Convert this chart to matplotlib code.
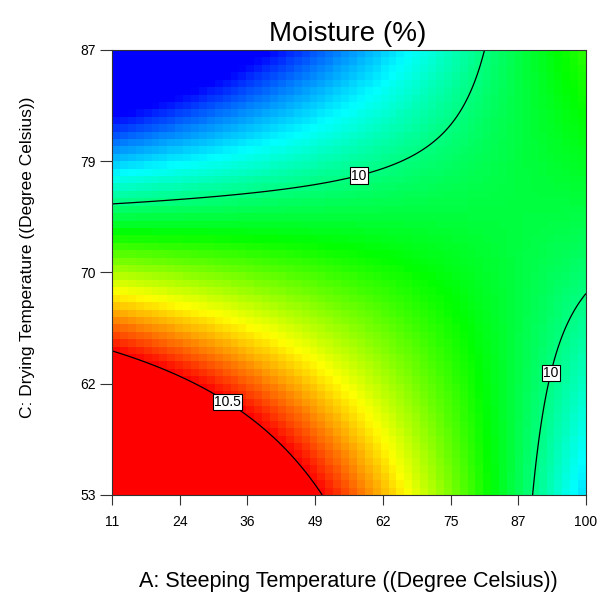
import numpy as np
import matplotlib
matplotlib.use("Agg")
import matplotlib.pyplot as plt
from matplotlib.colors import LinearSegmentedColormap

# Response-surface model for Moisture (%) in coded units
# terms: intercept, A, C, AC, A^2, C^2   (coefficients)
terms = ["1", "A", "C", "AC", "A2", "C2"]
coefs = [10.1345, -0.1109, -0.3124, 0.4451, -0.0110, -0.0096]

a_range = [11.0, 100.0]   # A: Steeping Temperature
c_range = [53.0, 87.0]    # C: Drying Temperature
contour_levels = [10.0, 10.5]
contour_label_text = ["10", "10.5"]
label_spots = [(57.2, 77.7), (92.7, 62.4), (33.0, 60.3)]
x_tick_labels = ["11", "24", "36", "49", "62", "75", "87", "100"]
y_tick_labels = ["53", "62", "70", "79", "87"]
color_low, color_high = 9.7, 10.5


def model(A, C):
    xx = (A - (a_range[0] + a_range[1]) / 2) / ((a_range[1] - a_range[0]) / 2)
    yy = (C - (c_range[0] + c_range[1]) / 2) / ((c_range[1] - c_range[0]) / 2)
    b = coefs
    return b[0] + b[1]*xx + b[2]*yy + b[3]*xx*yy + b[4]*xx*xx + b[5]*yy*yy


fig = plt.figure(figsize=(6.0, 5.92), dpi=100)
ax = fig.add_axes([112/600, 1-495/592, 474/600, 445/592])

cmap = LinearSegmentedColormap.from_list(
    "de", ["#0000ff", "#00ffff", "#00ff00", "#ffff00", "#ff0000"])
Ae = np.linspace(a_range[0], a_range[1], 61)
Ce = np.linspace(c_range[0], c_range[1], 61)
Ac = (Ae[:-1] + Ae[1:]) / 2
Cc = (Ce[:-1] + Ce[1:]) / 2
AA, CC = np.meshgrid(Ac, Cc)
ax.pcolormesh(Ae, Ce, model(AA, CC), cmap=cmap, vmin=color_low, vmax=color_high,
              shading="flat")

Af = np.linspace(a_range[0], a_range[1], 400)
Cf = np.linspace(c_range[0], c_range[1], 400)
AF, CF = np.meshgrid(Af, Cf)
cs = ax.contour(AF, CF, model(AF, CF), levels=contour_levels, colors="black",
                linewidths=0.9)
labels = ax.clabel(cs, fmt=dict(zip(contour_levels, contour_label_text)), fontsize=10,
                   inline=False, manual=label_spots)
for t in labels:
    t.set_rotation(0)
    t.set_family("Liberation Sans")
    t.set_bbox(dict(facecolor="white", edgecolor="black", pad=0.8, linewidth=0.8))
    t.set_zorder(5)

ax.set_xlim(*a_range)
ax.set_ylim(*c_range)
ax.set_xticks(np.linspace(a_range[0], a_range[1], len(x_tick_labels)))
ax.set_xticklabels(x_tick_labels, family="Liberation Sans", fontsize=10)
ax.set_yticks(np.linspace(c_range[0], c_range[1], len(y_tick_labels)))
ax.set_yticklabels(y_tick_labels, family="Liberation Sans", fontsize=10)
ax.tick_params(axis="x", direction="out", length=7.2, width=0.8, color="#333333", pad=7)
ax.tick_params(axis="y", direction="out", length=8.6, width=0.8, color="#333333", pad=3)
for s in ax.spines.values():
    s.set_linewidth(0.8)
    s.set_color("#333333")

fig.text(348/600, 1-41/592, "Moisture (%)", family="Liberation Sans", fontsize=20,
         ha="center", va="baseline")
fig.text(348/600, 1-587/592, "A: Steeping Temperature ((Degree Celsius))",
         family="Liberation Sans", fontsize=15.5, ha="center", va="baseline")
fig.text(28/600, 1-257/592, "C: Drying Temperature ((Degree Celsius))",
         family="Liberation Sans", fontsize=12.5, ha="center", va="center", rotation=90)

fig.savefig("out.png", dpi=100)
